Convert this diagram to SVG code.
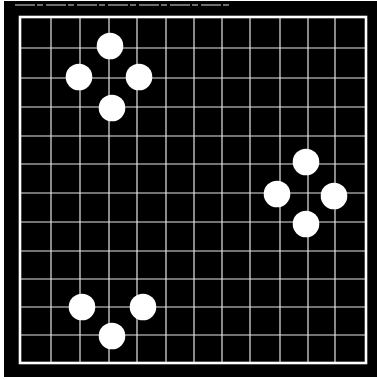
<svg xmlns="http://www.w3.org/2000/svg" width="377" height="380" viewBox="0 0 377 380">
<style>
.grid line{stroke:#e6e6e6;stroke-width:1.2}
.border{fill:none;stroke:#fff;stroke-width:2.6}
.stone{fill:#fff}
</style>
<rect x="0" y="0" width="377" height="380" fill="#fff"/>
<rect x="4" y="1" width="373" height="376" fill="#000"/>
<line x1="15" y1="5" x2="230" y2="5" stroke="#ddd" stroke-width="1" stroke-dasharray="20 2 6 3"/>
<g id="board">
<g class="grid">
<line x1="51" y1="17" x2="51" y2="363"/>
<line x1="80" y1="17" x2="80" y2="363"/>
<line x1="109" y1="17" x2="109" y2="363"/>
<line x1="137" y1="17" x2="137" y2="363"/>
<line x1="166" y1="17" x2="166" y2="363"/>
<line x1="194" y1="17" x2="194" y2="363"/>
<line x1="222" y1="17" x2="222" y2="363"/>
<line x1="250" y1="17" x2="250" y2="363"/>
<line x1="280" y1="17" x2="280" y2="363"/>
<line x1="308" y1="17" x2="308" y2="363"/>
<line x1="335" y1="17" x2="335" y2="363"/>
<line x1="20" y1="48" x2="366" y2="48"/>
<line x1="20" y1="78" x2="366" y2="78"/>
<line x1="20" y1="107" x2="366" y2="107"/>
<line x1="20" y1="136" x2="366" y2="136"/>
<line x1="20" y1="164" x2="366" y2="164"/>
<line x1="20" y1="193" x2="366" y2="193"/>
<line x1="20" y1="222" x2="366" y2="222"/>
<line x1="20" y1="251" x2="366" y2="251"/>
<line x1="20" y1="279" x2="366" y2="279"/>
<line x1="20" y1="307" x2="366" y2="307"/>
<line x1="20" y1="335" x2="366" y2="335"/>
</g>
<rect class="border" x="20" y="17" width="346" height="346"/>
</g>
<g id="group-top-left">
<circle class="stone" cx="110" cy="46" r="13.3"/>
<circle class="stone" cx="79" cy="77" r="13.3"/>
<circle class="stone" cx="139" cy="77" r="13.3"/>
<circle class="stone" cx="112" cy="108" r="13.3"/>
</g>
<g id="group-right">
<circle class="stone" cx="306" cy="162" r="13.3"/>
<circle class="stone" cx="277" cy="194" r="13.3"/>
<circle class="stone" cx="334" cy="196" r="13.3"/>
<circle class="stone" cx="306" cy="224" r="13.3"/>
</g>
<g id="group-bottom-left">
<circle class="stone" cx="82" cy="307" r="13.3"/>
<circle class="stone" cx="143" cy="307" r="13.3"/>
<circle class="stone" cx="112" cy="336" r="13.3"/>
</g>
</svg>
